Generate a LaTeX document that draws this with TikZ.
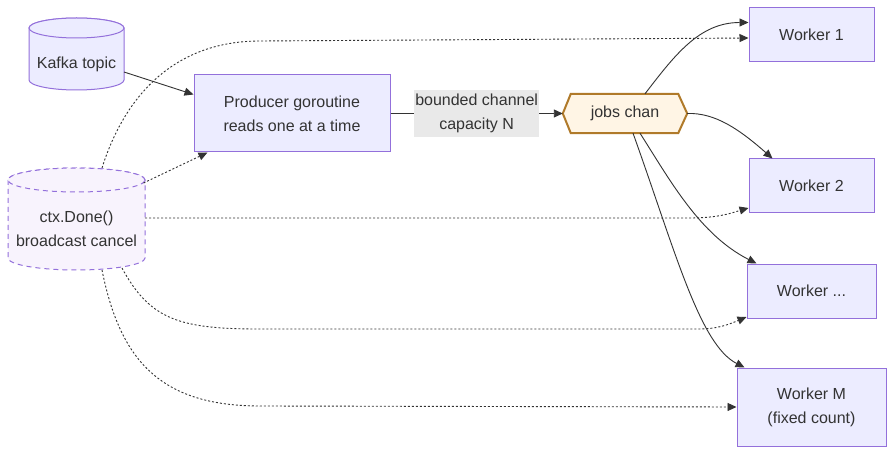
\documentclass[tikz,border=0pt]{standalone}
\usepackage{fontspec}
\setmainfont{Liberation Sans}
\usetikzlibrary{arrows.meta,calc,backgrounds}
\definecolor{nfill}{HTML}{ECECFF}
\definecolor{nstroke}{HTML}{9370DB}
\definecolor{ink}{HTML}{333333}
\definecolor{hexfill}{HTML}{FFF5E5}
\definecolor{hexstroke}{HTML}{B07A2A}
\definecolor{ctxfill}{HTML}{F8F3FD}
\definecolor{lblfill}{HTML}{E9E9E9}
\newcommand\mycyl[6]{%
  \path[#6] (#1-#4,#2+#5) -- (#1-#4,#3-#5)
    arc[start angle=180,end angle=360,x radius=#4pt,y radius=#5pt]
    -- (#1+#4,#2+#5)
    arc[start angle=0,end angle=180,x radius=#4pt,y radius=#5pt] -- cycle;
  \path[#6] (#1,#2+#5) ellipse [x radius=#4pt,y radius=#5pt];}
\begin{document}
\begin{tikzpicture}[x=1pt,y=-1pt,
  font=\fontsize{16}{24}\selectfont, text=ink,
  box/.style={draw=nstroke, fill=nfill, line width=1pt, align=center, inner sep=0pt},
  plain/.style={inner sep=0pt, align=center},
  cylsolid/.style={draw=nstroke, fill=nfill, line width=1pt},
  cylctx/.style={draw=nstroke, fill=ctxfill, line width=1pt, dash pattern=on 5pt off 4pt},
  hexshape/.style={draw=hexstroke, fill=hexfill, line width=2pt, line join=miter},
  edgelabel/.style={fill=lblfill, inner xsep=1pt, inner ysep=0pt, minimum height=47pt, align=center},
  flow/.style={draw=ink, line width=0.9pt, -{Triangle[length=9pt,width=8pt]}},
  cancel/.style={flow, dash pattern=on 2pt off 2pt},
]
\useasboundingbox (0,0) rectangle (893,454);
\begin{scope}[on background layer]
  \fill[white] (0,0) rectangle (893,454);
\end{scope}

% nodes
\node[plain] (kafka) at (76.5,64) {Kafka topic};
\node[plain] (ctx) at (76.5,229) {ctx.Done()\\broadcast cancel};
\node[box, minimum width=196pt, minimum height=77pt] (prod) at (292,113.5) {Producer goroutine\\reads one at a time};
\node[plain, minimum width=124pt, minimum height=39pt] (jobs) at (625,113.5) {jobs chan};
\node[box, minimum width=125pt, minimum height=54pt] (w1) at (811.5,34.5) {Worker 1};
\node[box, minimum width=125pt, minimum height=54pt] (w2) at (811.5,186) {Worker 2};
\node[box, minimum width=129pt, minimum height=54pt] (wd) at (811.5,291) {Worker ...};
\node[box, minimum width=149pt, minimum height=78pt] (wm) at (811.5,407) {Worker M\\(fixed count)};

% shapes behind text
\begin{scope}[on background layer]
  \mycyl{76.5}{18}{90}{47.5}{10}{cylsolid}
  \mycyl{76.5}{168}{270}{68.5}{12}{cylctx}
  \path[hexshape] (jobs.west) -- ($(jobs.north west)+(8,0)$) -- ($(jobs.north east)+(-9,0)$)
    -- (jobs.east) -- ($(jobs.south east)+(-9,0)$) -- ($(jobs.south west)+(8,0)$) -- cycle;
\end{scope}

% waypoints
\coordinate (c1) at (260,41);
\coordinate (c2) at (690,218);
\coordinate (c3) at (260,329);
\coordinate (c4) at (700,329);
\coordinate (c5) at (260,406);

% data flow
\draw[flow] ($(kafka.center)+(47.5,8)$) -- ($(prod.west)+(0,-19)$);
\draw[flow] (prod.east) -- node[edgelabel] (lbl) {bounded channel\\capacity N} (jobs.west);
\draw[flow] ($(jobs.north)+(20,0)$) .. controls +(30,-39) and +(-49,0) .. ($(w1.west)+(0,-12)$);
\draw[flow] (jobs.east) .. controls +(28,-1) and +(-33,-29) .. ($(w2.north west)+(24,0)$);
\draw[flow] ($(jobs.south)+(15,0)$) .. controls +(30,47) and +(-57,-29) .. ($(wd.north west)+(10,0)$);
\draw[flow] ($(jobs.south)+(8,0)$) .. controls +(42,117) and +(-45,-23) .. ($(wm.north west)+(8,0)$);

% cancellation
\draw[cancel] ($(ctx.center)+(25.5,-61)$) .. controls +(23,-73) and +(-85,0) .. (c1) -- ($(w1.west)+(0,3.5)$);
\draw[cancel] ($(ctx.center)+(67,-46)$) -- ($(prod.south west)+(14,0)$);
\draw[cancel] ($(ctx.center)+(68.5,-11)$) -- (c2) .. controls +(30,0) and +(-14,4) .. ($(w2.west)+(0,22)$);
\draw[cancel] ($(ctx.center)+(45.5,39)$) .. controls +(28,52) and +(-80,0) .. (c3) -- (c4) .. controls +(20,0) and +(-12,5) .. ($(wd.west)+(0,26)$);
\draw[cancel] ($(ctx.center)+(25.5,41)$) .. controls +(18,90) and +(-100,0) .. (c5) -- (wm.west);
\end{tikzpicture}
\end{document}
